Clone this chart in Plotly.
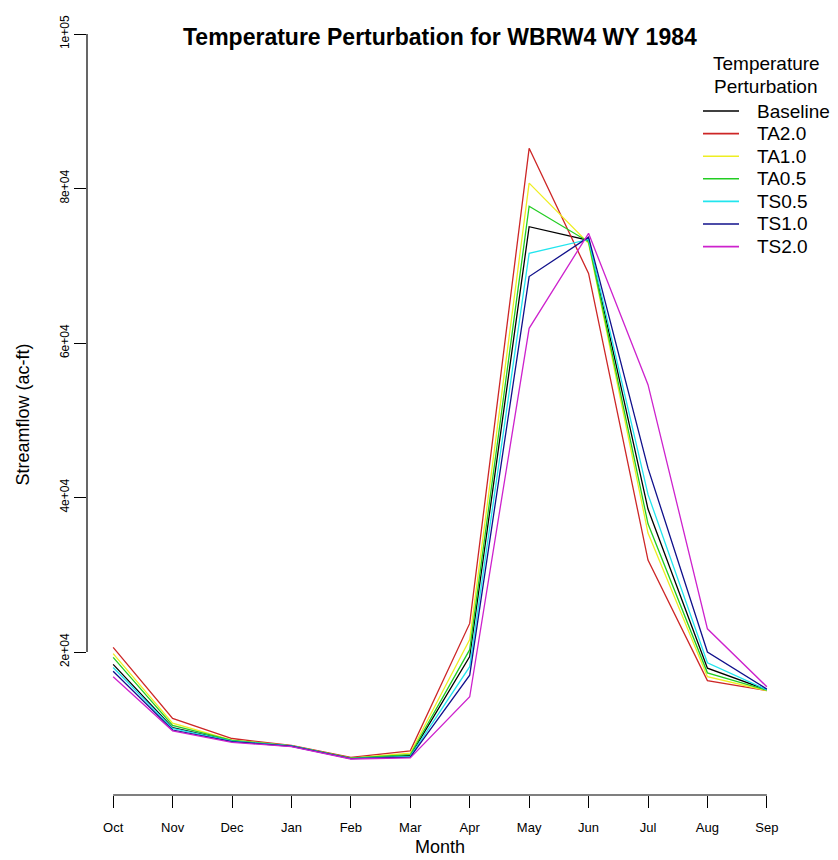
import plotly.graph_objects as go

months = ["Oct", "Nov", "Dec", "Jan", "Feb", "Mar", "Apr", "May", "Jun", "Jul", "Aug", "Sep"]

baseline = [18400, 10200, 8500, 7850, 6250, 6600, 19400, 75050, 73300, 38500, 17900, 15100]
ta20 = [20600, 11400, 8800, 7900, 6350, 7200, 23700, 85200, 69000, 31900, 16300, 15000]
ta10 = [19800, 10800, 8600, 7850, 6250, 6900, 21600, 80700, 72900, 35400, 16800, 15000]
ta05 = [19300, 10500, 8550, 7850, 6250, 6700, 20300, 77700, 73100, 36600, 17300, 15050]
ts05 = [18000, 10100, 8450, 7850, 6200, 6500, 18100, 71600, 73400, 40400, 18600, 15100]
ts10 = [17500, 9900, 8400, 7800, 6200, 6400, 17000, 68600, 73700, 43800, 20000, 15200]
ts20 = [16800, 9800, 8300, 7750, 6150, 6300, 14200, 61900, 74200, 54600, 23000, 15500]

series_names = ["Baseline", "TA2.0", "TA1.0", "TA0.5", "TS0.5", "TS1.0", "TS2.0"]
series_values = [baseline, ta20, ta10, ta05, ts05, ts10, ts20]
series_colors = ["#000000", "#cd2626", "#eeee22", "#22cd22", "#22e5ee", "#10108b", "#cd22cd"]

ytick_vals = [20000, 40000, 60000, 80000, 100000]
ytick_text = ["2e+04", "4e+04", "6e+04", "8e+04", "1e+05"]

FONT = "Liberation Sans, Arial, sans-serif"

W, H = 838, 860
ML, MR, MT, MB = 87, 45, 34, 65
PW, PH = W - ML - MR, H - MT - MB


def px(xp):
    return (xp - ML) / PW


def py(yp):
    return (H - MB - yp) / PH


fig = go.Figure()
xidx = list(range(len(months)))
for name, vals, col in zip(series_names, series_values, series_colors):
    fig.add_trace(go.Scatter(x=xidx, y=vals, mode="lines", name=name,
                             line=dict(color=col, width=1.3), showlegend=False))

fig.update_layout(
    width=W, height=H,
    margin=dict(l=ML, r=MR, t=MT, b=MB),
    plot_bgcolor="white", paper_bgcolor="white",
    font=dict(family=FONT, color="black"),
    showlegend=False,
    xaxis=dict(
        range=[-0.44, 11.44], tickmode="array", tickvals=xidx, ticktext=months,
        ticks="outside", ticklen=12, tickwidth=1, tickcolor="black",
        showline=False, showgrid=False, zeroline=False,
        tickfont=dict(size=13, family=FONT), ticklabelstandoff=8,
    ),
    yaxis=dict(
        range=[1489, 100000], tickmode="array", tickvals=ytick_vals, ticktext=ytick_text,
        ticks="outside", ticklen=12, tickwidth=1, tickcolor="black",
        showline=False, showgrid=False, zeroline=False, tickangle=-90,
        tickfont=dict(size=12, family=FONT),
    ),
)

# R-style axis lines spanning only first to last tick
fig.add_shape(type="line", xref="x", yref="paper", x0=xidx[0], x1=xidx[-1], y0=0, y1=0,
              line=dict(color="black", width=1.2))
fig.add_shape(type="line", xref="paper", yref="y", x0=0, x1=0, y0=ytick_vals[0], y1=ytick_vals[-1],
              line=dict(color="black", width=1.2))

fig.add_annotation(text="<b>Temperature Perturbation for WBRW4 WY 1984</b>",
                   xref="paper", yref="paper", x=0.5, y=py(37),
                   xanchor="center", yanchor="middle", showarrow=False,
                   font=dict(size=23, family=FONT, color="black"))
fig.add_annotation(text="Month", xref="paper", yref="paper", x=0.5, y=py(859),
                   xanchor="center", yanchor="bottom", showarrow=False,
                   font=dict(size=18, family=FONT, color="black"))
fig.add_annotation(text="Streamflow (ac-ft)", xref="paper", yref="paper",
                   x=px(22), y=0.5, textangle=-90,
                   xanchor="center", yanchor="middle", showarrow=False,
                   font=dict(size=18, family=FONT, color="black"))

# Legend (R-style, top right)
LEG_FONT = 19
fig.add_annotation(text="Temperature", xref="paper", yref="paper", x=px(766), y=py(64),
                   xanchor="center", yanchor="middle", showarrow=False,
                   font=dict(size=LEG_FONT, family=FONT, color="black"))
fig.add_annotation(text="Perturbation", xref="paper", yref="paper", x=px(766), y=py(86),
                   xanchor="center", yanchor="middle", showarrow=False,
                   font=dict(size=LEG_FONT, family=FONT, color="black"))
for i, (name, col) in enumerate(zip(series_names, series_colors)):
    yy = 111 + 22.6 * i
    fig.add_shape(type="line", xref="paper", yref="paper",
                  x0=px(703), x1=px(739), y0=py(yy), y1=py(yy),
                  line=dict(color=col, width=1.6))
    fig.add_annotation(text=name, xref="paper", yref="paper", x=px(755), y=py(yy),
                       xanchor="left", yanchor="middle", showarrow=False,
                       font=dict(size=LEG_FONT, family=FONT, color="black"))

fig.write_html("out.html")
